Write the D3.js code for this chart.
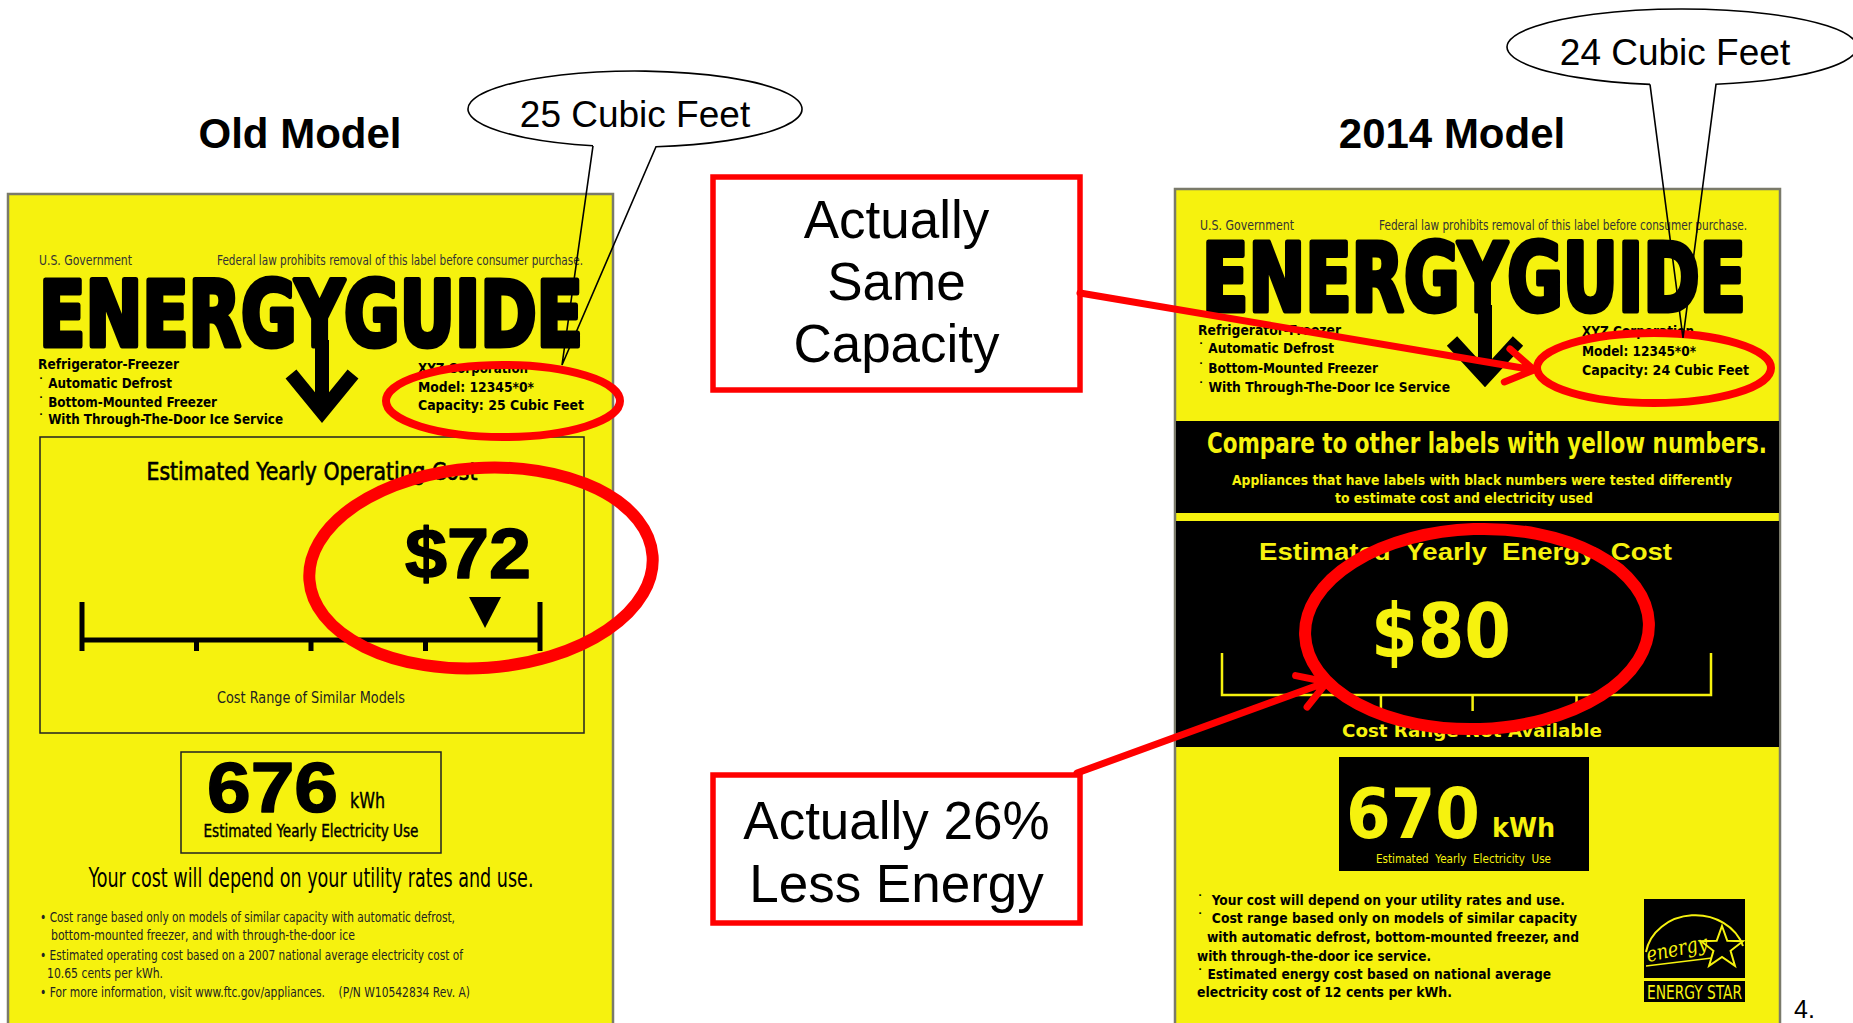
<!DOCTYPE html>
<html>
<head>
<meta charset="UTF-8">
<script src="https://d3js.org/d3.v7.min.js"></script>
<style>
  body { margin: 0; background: #fff; }
  svg { display: block; }
  text { white-space: pre; }
</style>
</head>
<body>
<div id="chart"></div>
<script>
// ---- data ----
var models = ["Old Model", "2014 Model"];
var capacities = [25, 24];
var costs = [72, 80];
var kwhs = [676, 670];
var oldTicks = [0, 1, 2, 3, 4];
var newTicks = [1.3, 2.05, 2.9];
var oldMarker = [3.52];
var features = ["Refrigerator-Freezer", "\u02d9 Automatic Defrost", "\u02d9 Bottom-Mounted Freezer", "\u02d9 With Through-The-Door Ice Service"];
var makerLines = function(cap) { return ["XYZ Corporation", "Model: 12345*0*", "Capacity: " + cap + " Cubic Feet"]; };
var oldNotes = [
  "\u2022 Cost range based only on models of similar capacity with automatic defrost,",
  "bottom-mounted freezer, and with through-the-door ice",
  "\u2022 Estimated operating cost based on a 2007 national average electricity cost of",
  "10.65 cents per kWh.",
  "\u2022 For more information, visit www.ftc.gov/appliances.    (P/N W10542834 Rev. A)"
];
var newNotes = [
  "\u02d9  Your cost will depend on your utility rates and use.",
  "\u02d9  Cost range based only on models of similar capacity",
  "with automatic defrost, bottom-mounted freezer, and",
  "with through-the-door ice service.",
  "\u02d9 Estimated energy cost based on national average",
  "electricity cost of 12 cents per kWh."
];
var callouts = ["Actually Same Capacity", "Actually 26% Less Energy"];

// ---- styles ----
var YEL = "#f6f20e", RED = "#ff0000";
var ARIAL = "'Liberation Sans', Arial, sans-serif";
var NARROW = "'Liberation Sans Narrow', 'DejaVu Sans Condensed', sans-serif";
var HEAVY = "'DejaVu Sans Condensed', 'DejaVu Sans', sans-serif";

var W = 1853, H = 1023;
var svg = d3.select("#chart").append("svg").attr("width", W).attr("height", H);
svg.append("rect").attr("width", W).attr("height", H).attr("fill", "#fff");

function txt(g, x, y, s, o) {
  o = o || {};
  var t = g.append("text").attr("x", x).attr("y", y).text(s)
    .attr("font-family", o.family || ARIAL)
    .attr("font-size", o.size || 14)
    .attr("font-weight", o.weight || "normal")
    .attr("font-style", o.style || "normal")
    .attr("fill", o.fill || "#000")
    .attr("text-anchor", o.anchor || "start");
  if (o.len) t.attr("textLength", o.len).attr("lengthAdjust", "spacingAndGlyphs");
  if (o.stroke) t.attr("stroke", o.stroke).attr("stroke-width", o.sw || 1).attr("stroke-linejoin", "round");
  return t;
}
function lines(g, arr, xs, ends, ys, o) {
  arr.forEach(function(s, i) {
    var x = Array.isArray(xs) ? xs[i] : xs;
    txt(g, x, ys[i], s, Object.assign({len: ends[i] - x}, o));
  });
}
function downArrow(g, cx, top, shoulder, tip, half, fill) {
  g.append("line").attr("x1", cx).attr("x2", cx).attr("y1", top).attr("y2", tip - 8)
    .attr("stroke", fill).attr("stroke-width", 14);
  g.append("path").attr("d", "M" + (cx - half) + "," + shoulder + " L" + cx + "," + (tip - 6) + " L" + (cx + half) + "," + shoulder)
    .attr("fill", "none").attr("stroke", fill).attr("stroke-width", 14).attr("stroke-linejoin", "miter");
}
function bubble(cx, cy, rx, ry, xl, xr, tip, s, tx, ty) {
  var g = svg.append("g");
  function yAt(x) { return cy + ry * Math.sqrt(1 - Math.pow((x - cx) / rx, 2)); }
  g.append("ellipse").attr("cx", cx).attr("cy", cy).attr("rx", rx).attr("ry", ry).attr("fill", "#fff");
  g.append("path")
    .attr("d", "M" + xl + "," + yAt(xl) + " L" + tip[0] + "," + tip[1] + " L" + xr + "," + yAt(xr) +
      " A" + rx + "," + ry + " 0 1 0 " + xl + "," + yAt(xl))
    .attr("fill", "none").attr("stroke", "#000").attr("stroke-width", 1.6);
  txt(g, tx, ty, s, {size: 37, anchor: "middle"});
}
function redArrow(x1, y1, x2, y2) {
  var a = Math.atan2(y2 - y1, x2 - x1), L = 32, sp = 0.55;
  var p = "M" + x1 + "," + y1 + " L" + x2 + "," + y2 +
    " M" + (x2 - L * Math.cos(a - sp)) + "," + (y2 - L * Math.sin(a - sp)) + " L" + x2 + "," + y2 +
    " L" + (x2 - L * Math.cos(a + sp)) + "," + (y2 - L * Math.sin(a + sp));
  svg.append("path").attr("d", p).attr("fill", "none").attr("stroke", RED)
    .attr("stroke-width", 7).attr("stroke-linecap", "round").attr("stroke-linejoin", "round");
}

// ---- titles ----
txt(svg, 300, 148, models[0], {size: 42, weight: "bold", anchor: "middle"});
txt(svg, 1452, 148, models[1], {size: 42, weight: "bold", anchor: "middle"});

// ================= OLD LABEL =================
var og = svg.append("g");
og.append("rect").attr("x", 8).attr("y", 194).attr("width", 605).attr("height", 900)
  .attr("fill", YEL).attr("stroke", "#7a7a6a").attr("stroke-width", 2.5);
txt(og, 39, 265, "U.S. Government", {family: NARROW, size: 14, fill: "#333", len: 93});
txt(og, 217, 265, "Federal law prohibits removal of this label before consumer purchase.", {family: NARROW, size: 14, fill: "#333", len: 366});
txt(og, 39, 346, "ENERGYGUIDE", {family: HEAVY, size: 90, weight: "bold", len: 544, stroke: "#000", sw: 5});
downArrow(og, 322, 340, 374, 418, 31, "#000");
lines(og, features, 38, [179, 172, 217, 283], [369, 388, 407, 424], {family: HEAVY, size: 13.5, weight: "bold"});
lines(og, makerLines(capacities[0]), 418, [528, 534, 584], [373, 392, 410], {family: HEAVY, size: 13.5, weight: "bold"});

og.append("rect").attr("x", 40).attr("y", 437).attr("width", 544).attr("height", 296)
  .attr("fill", "none").attr("stroke", "#222").attr("stroke-width", 1.5);
txt(og, 312, 480, "Estimated Yearly Operating Cost", {family: NARROW, size: 24, anchor: "middle", len: 331, stroke: "#000", sw: 0.6});
txt(og, 405, 578, "$" + costs[0], {size: 70, weight: "bold", len: 126, stroke: "#000", sw: 1.5});

var xOld = d3.scaleLinear().domain([0, 4]).range([82, 540]);
og.append("line").attr("x1", xOld(0)).attr("x2", xOld(4)).attr("y1", 640).attr("y2", 640)
  .attr("stroke", "#000").attr("stroke-width", 5);
og.selectAll(".otick").data(oldTicks).enter().append("line")
  .attr("x1", function(d) { return xOld(d); }).attr("x2", function(d) { return xOld(d); })
  .attr("y1", function(d) { return (d === 0 || d === 4) ? 602 : 638; })
  .attr("y2", 651)
  .attr("stroke", "#000").attr("stroke-width", 5);
og.selectAll(".marker").data(oldMarker).enter().append("path")
  .attr("d", function(d) { var x = xOld(d); return "M" + (x - 16) + ",597 L" + (x + 16) + ",597 L" + x + ",628 Z"; })
  .attr("fill", "#000");
txt(og, 311, 703, "Cost Range of Similar Models", {family: NARROW, size: 16, anchor: "middle", fill: "#222", len: 188});

og.append("rect").attr("x", 181).attr("y", 752).attr("width", 260).attr("height", 101)
  .attr("fill", "none").attr("stroke", "#222").attr("stroke-width", 1.5);
txt(og, 207, 812, String(kwhs[0]), {size: 70, weight: "bold", len: 131, stroke: "#000", sw: 1.5});
txt(og, 350, 808, "kWh", {family: NARROW, size: 21, len: 35, stroke: "#000", sw: 0.4});
txt(og, 311, 837, "Estimated Yearly Electricity Use", {family: NARROW, size: 17, anchor: "middle", len: 215, stroke: "#000", sw: 0.4});
txt(og, 311, 887, "Your cost will depend on your utility rates and use.", {family: NARROW, size: 26, anchor: "middle", len: 445});
lines(og, oldNotes, [40, 51, 40, 47, 40], [455, 355, 463, 163, 470], [922, 940, 960, 978, 997], {family: NARROW, size: 14, fill: "#222"});

// red circles on old label
og.append("ellipse").attr("cx", 503).attr("cy", 401).attr("rx", 117).attr("ry", 36)
  .attr("fill", "none").attr("stroke", RED).attr("stroke-width", 8);
og.append("ellipse").attr("cx", 481).attr("cy", 568).attr("rx", 172).attr("ry", 100)
  .attr("transform", "rotate(-4 481 568)")
  .attr("fill", "none").attr("stroke", RED).attr("stroke-width", 12);

// ================= NEW LABEL =================
var ng = svg.append("g");
ng.append("rect").attr("x", 1175).attr("y", 189).attr("width", 605).attr("height", 900)
  .attr("fill", YEL).attr("stroke", "#7a7a6a").attr("stroke-width", 2.5);
txt(ng, 1200, 230, "U.S. Government", {family: NARROW, size: 14, fill: "#333", len: 94});
txt(ng, 1379, 230, "Federal law prohibits removal of this label before consumer purchase.", {family: NARROW, size: 14, fill: "#333", len: 368});
txt(ng, 1202, 311, "ENERGYGUIDE", {family: HEAVY, size: 94, weight: "bold", len: 544, stroke: "#000", sw: 5});
downArrow(ng, 1485, 305, 341, 383, 33, "#000");
lines(ng, features, 1198, [1341, 1334, 1378, 1450], [335, 353, 373, 392], {family: HEAVY, size: 13.5, weight: "bold"});
lines(ng, makerLines(capacities[1]), 1582, [1694, 1696, 1749], [336, 356, 375], {family: HEAVY, size: 13.5, weight: "bold"});

ng.append("rect").attr("x", 1176).attr("y", 421).attr("width", 603).attr("height", 92).attr("fill", "#000");
ng.append("rect").attr("x", 1176).attr("y", 521).attr("width", 603).attr("height", 226).attr("fill", "#000");
txt(ng, 1207, 453, "Compare to other labels with yellow numbers.", {family: HEAVY, size: 29, weight: "bold", fill: YEL, len: 560});
txt(ng, 1232, 485, "Appliances that have labels with black numbers were tested differently", {family: HEAVY, size: 14, weight: "bold", fill: YEL, len: 500});
txt(ng, 1335, 503, "to estimate cost and electricity used", {family: HEAVY, size: 14, weight: "bold", fill: YEL, len: 258});
txt(ng, 1259, 560, "Estimated  Yearly  Energy  Cost", {size: 24, weight: "bold", fill: YEL, len: 413});
txt(ng, 1371, 657, "$" + costs[1], {family: HEAVY, size: 74, weight: "bold", fill: YEL, len: 140});

var xNew = d3.scaleLinear().domain([0, 4]).range([1222, 1711]);
ng.append("path")
  .attr("d", "M" + xNew(0) + ",653 L" + xNew(0) + ",695 L" + xNew(4) + ",695 L" + xNew(4) + ",653")
  .attr("fill", "none").attr("stroke", YEL).attr("stroke-width", 2.5);
ng.selectAll(".ntick").data(newTicks).enter().append("line")
  .attr("x1", function(d) { return xNew(d); }).attr("x2", function(d) { return xNew(d); })
  .attr("y1", 695).attr("y2", 711)
  .attr("stroke", YEL).attr("stroke-width", 2.5);
txt(ng, 1342, 737, "Cost Range Not Available", {family: HEAVY, size: 18, weight: "bold", fill: YEL, len: 260});

ng.append("rect").attr("x", 1339).attr("y", 757).attr("width", 250).attr("height", 114).attr("fill", "#000");
txt(ng, 1346, 838, String(kwhs[1]), {family: HEAVY, size: 70, weight: "bold", fill: YEL, len: 134});
txt(ng, 1492, 837, "kWh", {family: HEAVY, size: 27, weight: "bold", fill: YEL, len: 63});
txt(ng, 1376, 863, "Estimated  Yearly  Electricity  Use", {family: NARROW, size: 12, fill: YEL, len: 175});
lines(ng, newNotes, [1197, 1197, 1207, 1197, 1197, 1197], [1565, 1577, 1579, 1431, 1551, 1452],
  [905, 923, 942, 961, 979, 997], {family: HEAVY, size: 14, weight: "bold"});

// Energy Star logo
var es = ng.append("g");
es.append("rect").attr("x", 1644).attr("y", 899).attr("width", 101).attr("height", 79).attr("fill", "#000");
es.append("path").attr("d", "M1646,952 A 50 44 0 0 1 1743,946").attr("fill", "none").attr("stroke", YEL).attr("stroke-width", 2);
var star = d3.range(10).map(function(i) {
  var r = i % 2 ? 9 : 22, a = -Math.PI / 2 + i * Math.PI / 5;
  return [1722 + r * Math.cos(a), 948 + r * Math.sin(a)];
});
es.append("path").attr("d", d3.line()(star) + "Z").attr("fill", "#000").attr("stroke", YEL).attr("stroke-width", 2);
txt(es, 1648, 962, "energy", {family: "'DejaVu Serif', serif", style: "italic", size: 21, fill: YEL, len: 62})
  .attr("transform", "rotate(-12 1648 962)");
es.append("path").attr("d", "M1646,966 Q1680,962 1712,958").attr("fill", "none").attr("stroke", YEL).attr("stroke-width", 1.5);
es.append("rect").attr("x", 1644).attr("y", 981).attr("width", 101).attr("height", 21).attr("fill", "#000");
txt(es, 1694.5, 999, "ENERGY STAR", {family: NARROW, size: 19, fill: YEL, anchor: "middle", len: 95});

// red circles on new label
ng.append("ellipse").attr("cx", 1654).attr("cy", 368).attr("rx", 117).attr("ry", 35)
  .attr("fill", "none").attr("stroke", RED).attr("stroke-width", 8);
ng.append("ellipse").attr("cx", 1477).attr("cy", 629).attr("rx", 172).attr("ry", 100)
  .attr("transform", "rotate(-2 1477 629)")
  .attr("fill", "none").attr("stroke", RED).attr("stroke-width", 12);

// ================= speech bubbles =================
bubble(635, 109, 167, 38, 593, 656, [562, 365], capacities[0] + " Cubic Feet", 635, 127);
bubble(1682, 47, 175, 38, 1650, 1716, [1683, 338], capacities[1] + " Cubic Feet", 1675, 65);

// ================= call-out boxes =================
var boxes = [{x: 713, y: 177, w: 367, h: 213, lines: ["Actually", "Same", "Capacity"], ys: [238, 300, 362]},
             {x: 713, y: 775, w: 367, h: 148, lines: ["Actually 26%", "Less Energy"], ys: [839, 902]}];
boxes.forEach(function(b, i) {
  svg.append("rect").attr("x", b.x).attr("y", b.y).attr("width", b.w).attr("height", b.h)
    .attr("fill", "#fff").attr("stroke", RED).attr("stroke-width", 5.5).attr("aria-label", callouts[i]);
  b.lines.forEach(function(s, j) { txt(svg, b.x + b.w / 2, b.ys[j], s, {size: 53, anchor: "middle"}); });
});
redArrow(1080, 293, 1534, 370);
redArrow(1077, 773, 1327, 682);

txt(svg, 1794, 1018, "4.", {size: 25});
</script>
</body>
</html>
